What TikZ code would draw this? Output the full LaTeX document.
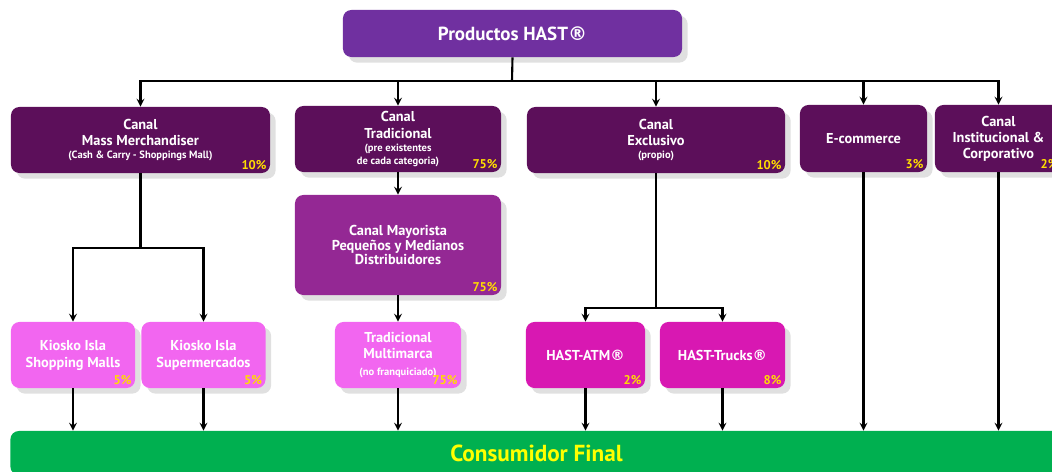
\documentclass[tikz,border=0pt]{standalone}
\usepackage{fontspec}
\setmainfont{PT Sans}
\newfontfamily\regfont{DejaVu Sans}
\usetikzlibrary{arrows,shapes,positioning,shadows}

\definecolor{hastviolet}{RGB}{112,48,160}
\definecolor{canalpurple}{RGB}{92,15,90}
\definecolor{mayorpurple}{RGB}{148,40,148}
\definecolor{kioskpink}{RGB}{242,102,240}
\definecolor{ownmagenta}{RGB}{216,24,178}
\definecolor{finalgreen}{RGB}{0,176,80}
\definecolor{pctyellow}{RGB}{255,221,0}
\definecolor{finalyellow}{RGB}{255,255,0}

\newcommand{\subtxt}[1]{{\fontsize{7.5}{9}\selectfont #1}}
\newcommand{\regmark}{{\regfont\bfseries ®}}

\begin{document}
\begin{tikzpicture}[
    x=0.025cm, y=-0.025cm,
    box/.style={rectangle, rounded corners=6pt, text=white, align=center, inner sep=2pt,
        font=\bfseries\fontsize{10.2}{11.5}\selectfont,
        drop shadow={shadow xshift=4pt, shadow yshift=-4pt, fill=black!12, opacity=1}},
    canal/.style={box, fill=canalpurple, minimum height=1.65cm},
    leaf/.style={box, minimum height=1.65cm},
    pct/.style={anchor=south east, inner sep=2.5pt, text=pctyellow, font=\bfseries\fontsize{9}{10}\selectfont},
    line/.style={line width=1.5pt},
    arrow/.style={->, line width=1.5pt, >=stealth},
]
    \useasboundingbox (0,0) rectangle (1052,472);
    \clip (0,0) rectangle (1052,472);

    % Top
    \node [box, fill=hastviolet, minimum width=8.475cm, minimum height=1.175cm,
           font=\bfseries\fontsize{13.5}{15}\selectfont] (hast) at (512.5,33.5) {Productos HAST\regmark};

    % Channels
    \node [canal, minimum width=6.475cm, label={[pct]south east:10\%}] (mass) at (140.5,140)
        {Canal\\Mass Merchandiser\\[-2pt]\subtxt{(Cash \& Carry - Shoppings Mall)}};
    \node [canal, minimum width=5.15cm, label={[pct]south east:75\%}] (trad) at (398,139)
        {Canal\\Tradicional\\[-2pt]\subtxt{(pre existentes}\\[-2.5pt]\subtxt{de cada categoria)}};
    \node [canal, minimum width=6.45cm, label={[pct]south east:10\%}] (excl) at (656,140)
        {Canal\\Exclusivo\\[-2pt]\subtxt{(propio)}};
    \node [canal, minimum width=3.175cm, minimum height=1.675cm, label={[pct]south east:3\%}] (ecom) at (863.5,138.5)
        {E-commerce};
    \node [canal, minimum width=3.175cm, minimum height=1.675cm, label={[pct]south east:2\%}] (inst) at (998.5,138.5)
        {Canal\\Institucional \&\\Corporativo};

    % Wholesale
    \node [box, fill=mayorpurple, minimum width=5.15cm, minimum height=2.5cm, label={[pct]south east:75\%}] (mayor) at (398,245)
        {Canal Mayorista\\[-1.5pt]Pequeños y Medianos\\[-1.5pt]Distribuidores};

    % Points of sale
    \node [leaf, fill=kioskpink, minimum width=3.1cm, label={[pct]south east:5\%}] (kiomall) at (73,355)
        {Kiosko Isla\\[0.5pt]Shopping Malls};
    \node [leaf, fill=kioskpink, minimum width=3.1cm, label={[pct]south east:5\%}] (kiosuper) at (203.5,355)
        {Kiosko Isla\\[0.5pt]Supermercados};
    \node [leaf, fill=kioskpink, minimum width=3.15cm, label={[pct]south east:75\%}] (multi) at (398,355)
        {Tradicional\\Multimarca\\\subtxt{(no franquiciado)}};
    \node [leaf, fill=ownmagenta, minimum width=2.975cm, label={[pct]south east:2\%}] (atm) at (585.5,355)
        {HAST-ATM\regmark};
    \node [leaf, fill=ownmagenta, minimum width=3.125cm, label={[pct]south east:8\%}] (trucks) at (722.5,355)
        {HAST-Trucks\regmark};

    % Final consumer
    \node [rectangle, rounded corners=6pt, fill=finalgreen, text=finalyellow, minimum width=26.3cm, minimum height=1.1cm,
           font=\bfseries\fontsize{16.5}{18}\selectfont] (final) at (536.5,453) {Consumidor Final};

    % Junctions
    \coordinate (hastjoin) at (512,81);
    \coordinate (massjoin) at (140.5,248);
    \coordinate (excljoin) at (656,308);

    % Arrows
    \draw [line] (hast.south) -- (hastjoin);
    \draw [arrow] (hastjoin) -| (mass.north);
    \draw [arrow] (hastjoin) -| (trad.north);
    \draw [arrow] (hastjoin) -| (excl.north);
    \draw [arrow] (hastjoin) -| (ecom.north);
    \draw [arrow] (hastjoin) -| (inst.north);
    \draw [arrow] (trad) -- (mayor);
    \draw [arrow] (mayor) -- (multi);
    \draw [arrow] (mass.south) -- (massjoin) -| (kiomall.north);
    \draw [arrow] (massjoin) -| (kiosuper.north);
    \draw [arrow] (excl.south) -- (excljoin) -| (atm.north);
    \draw [arrow] (excljoin) -| (trucks.north);
    \draw [arrow] (kiomall.south) -- (kiomall.south |- final.north);
    \draw [arrow] (kiosuper.south) -- (kiosuper.south |- final.north);
    \draw [arrow] (multi.south) -- (multi.south |- final.north);
    \draw [arrow] (atm.south) -- (atm.south |- final.north);
    \draw [arrow] (trucks.south) -- (trucks.south |- final.north);
    \draw [arrow] (ecom.south) -- (ecom.south |- final.north);
    \draw [arrow] (inst.south) -- (inst.south |- final.north);

\end{tikzpicture}
\end{document}
